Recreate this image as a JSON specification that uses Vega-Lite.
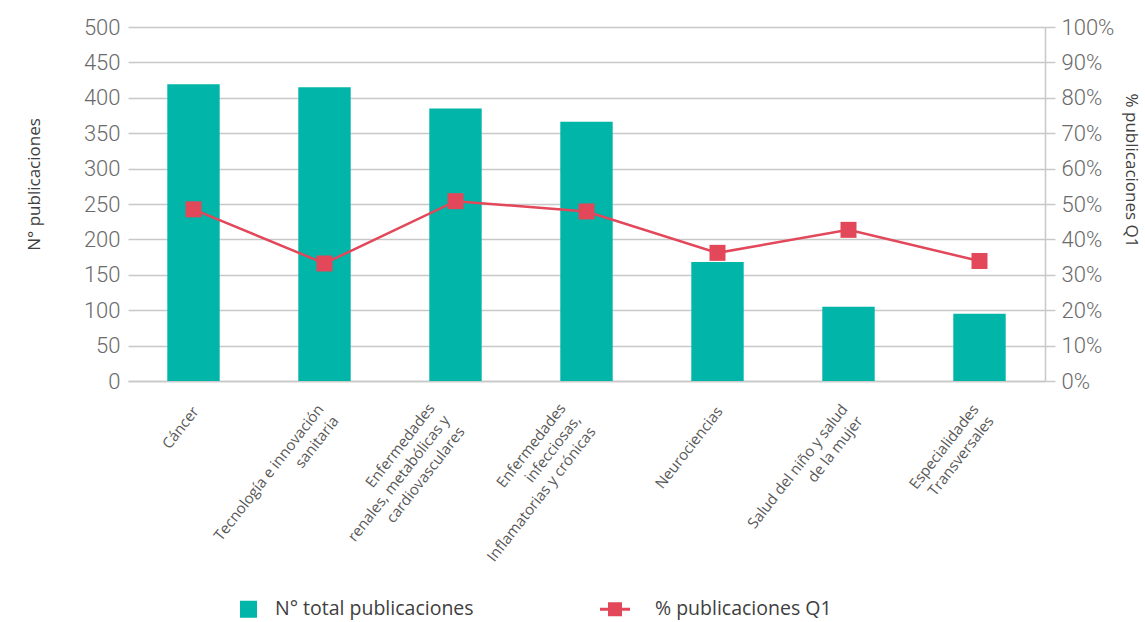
{
  "$schema": "https://vega.github.io/schema/vega-lite/v6.json",
  "width": 917,
  "height": 354,
  "autosize": "none",
  "padding": {"left": 128, "top": 27, "right": 100, "bottom": 241},
  "background": "white",
  "config": {"view": {"stroke": null}, "font": "Open Sans"},
  "data": {
    "values": [
      {"cat": "Cáncer", "n": 419, "pct": 0.485},
      {"cat": "Tecnología e innovación|sanitaria", "n": 415, "pct": 0.332},
      {"cat": "Enfermedades|renales, metabólicas y|cardiovasculares", "n": 385, "pct": 0.508},
      {"cat": "Enfermedades|infecciosas,|Inflamatorias y crónicas", "n": 366, "pct": 0.479},
      {"cat": "Neurociencias", "n": 168, "pct": 0.362},
      {"cat": "Salud del niño y salud|de la mujer", "n": 105, "pct": 0.427},
      {"cat": "Especialidades|Transversales", "n": 95, "pct": 0.339}
    ]
  },
  "encoding": {
    "x": {
      "field": "cat",
      "type": "nominal",
      "sort": null,
      "scale": {"paddingInner": 0.6, "paddingOuter": 0.3},
      "axis": {
        "title": null,
        "labelAngle": -52,
        "labelAlign": "right",
        "labelBaseline": "middle",
        "labelExpr": "split(datum.label, '|')",
        "ticks": false,
        "domainColor": "#c8c8c8",
        "domainWidth": 1.5,
        "labelFont": "Open Sans",
        "labelFontSize": 15,
        "labelLineHeight": 19,
        "labelColor": "#595959",
        "labelPadding": {
          "condition": [
            {"test": "length(split(datum.label, '|')) == 3", "value": 24},
            {"test": "length(split(datum.label, '|')) == 2", "value": 25}
          ],
          "value": 27
        },
        "labelOffset": {
          "condition": [
            {"test": "length(split(datum.label, '|')) == 3", "value": -24},
            {"test": "length(split(datum.label, '|')) == 2", "value": -4}
          ],
          "value": 2
        },
        "labelLimit": 0
      }
    }
  },
  "layer": [
    {
      "mark": {"type": "bar", "color": "#02b5a9"},
      "encoding": {
        "y": {
          "field": "n",
          "type": "quantitative",
          "scale": {"domain": [0, 500]},
          "axis": {
            "title": "N° publicaciones",
            "values": [0, 50, 100, 150, 200, 250, 300, 350, 400, 450, 500],
            "domain": false,
            "ticks": false,
            "grid": true,
            "gridColor": "#c8c8c8",
            "gridWidth": 1.5,
            "labelFont": "Roboto",
            "labelFontWeight": 300,
            "labelFontSize": 22,
            "labelColor": "#6a6a6a",
            "labelPadding": 8,
            "titleFont": "Open Sans",
            "titleFontSize": 17,
            "titleFontWeight": "normal",
            "titleColor": "#404040",
            "titleX": -85,
            "titleY": 157,
            "titleAngle": -90
          }
        },
        "color": {
          "datum": "N° total publicaciones",
          "scale": {"domain": ["N° total publicaciones", "% publicaciones Q1"], "range": ["#02b5a9", "#e2475a"]},
          "legend": {
            "title": null,
            "orient": "none",
            "legendX": 99,
            "legendY": 562,
            "direction": "horizontal",
            "columnPadding": 126,
            "symbolSize": 1600,
            "labelOffset": 8,
            "labelFont": "Open Sans",
            "labelFontSize": 19.5,
            "labelColor": "#404040",
            "labelLimit": 0,
            "padding": 0,
            "encode": {
              "symbols": {
                "update": {
                  "shape": {"signal": "datum.label === 'N° total publicaciones' ? 'M-0.35,-0.425H0.5V0.425H-0.35Z' : 'M-1.35,-0.075H0.15V0.075H-1.35Z M-0.95,-0.35H-0.25V0.35H-0.95Z'"},
                  "fill": {"signal": "datum.label === 'N° total publicaciones' ? '#02b5a9' : '#e2475a'"},
                  "stroke": {"value": "transparent"},
                  "strokeWidth": {"value": 0},
                  "opacity": {"value": 1},
                  "fillOpacity": {"value": 1}
                }
              }
            }
          }
        }
      }
    },
    {
      "mark": {"type": "line", "strokeWidth": 2.5, "point": {"shape": "square", "size": 256, "filled": true, "opacity": 1}},
      "encoding": {
        "y": {
          "field": "pct",
          "type": "quantitative",
          "scale": {"domain": [0, 1]},
          "axis": {
            "orient": "right",
            "title": "% publicaciones Q1",
            "format": ".0%",
            "values": [0, 0.1, 0.2, 0.3, 0.4, 0.5, 0.6, 0.7, 0.8, 0.9, 1],
            "grid": false,
            "domain": true,
            "domainColor": "#c8c8c8",
            "domainWidth": 1.5,
            "ticks": true,
            "tickColor": "#c8c8c8",
            "tickWidth": 1.5,
            "tickSize": 10,
            "labelFont": "Roboto",
            "labelFontWeight": 300,
            "labelFontSize": 22,
            "labelColor": "#6a6a6a",
            "labelPadding": 6,
            "titleFont": "Open Sans",
            "titleFontSize": 17,
            "titleFontWeight": "normal",
            "titleColor": "#404040",
            "titleX": 76,
            "titleY": 143,
            "titleAngle": 90
          }
        },
        "color": {"datum": "% publicaciones Q1"}
      }
    }
  ],
  "resolve": {"scale": {"y": "independent"}}
}
